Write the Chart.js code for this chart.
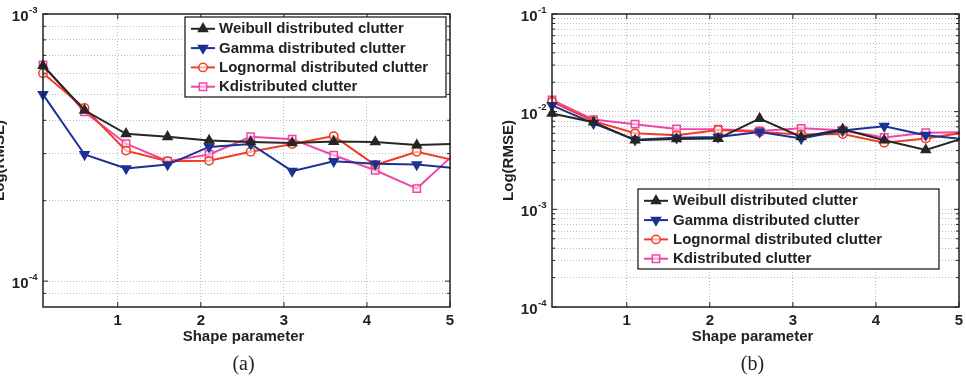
<!DOCTYPE html>
<html>
<head>
<meta charset="utf-8">
<script src="https://cdn.jsdelivr.net/npm/chart.js@4.4.0/dist/chart.umd.min.js"></script>
<style>
  body { margin: 0; background: #fff; }
  #wrap { position: relative; width: 966px; height: 378px; }
  .box { position: absolute; top: 0; width: 483px; height: 378px; }
  #boxA { left: 0; }
  #boxB { left: 483px; }
</style>
</head>
<body>
<div id="wrap">
  <div class="box" id="boxA"><canvas id="chartA"></canvas></div>
  <div class="box" id="boxB"><canvas id="chartB"></canvas></div>
</div>
<script>
// shape parameter values (last point lies just past the axis end)
const shapeParam = [0.1, 0.6, 1.1, 1.6, 2.1, 2.6, 3.1, 3.6, 4.1, 4.6, 5.1];
const seriesNames = ['Weibull distributed clutter', 'Gamma distributed clutter', 'Lognormal distributed clutter', 'Kdistributed clutter'];

// (a) RMSE
const weibullA   = [6.4e-4, 4.36e-4, 3.56e-4, 3.47e-4, 3.36e-4, 3.32e-4, 3.29e-4, 3.33e-4, 3.32e-4, 3.23e-4, 3.27e-4];
const gammaA     = [5.0e-4, 2.98e-4, 2.64e-4, 2.73e-4, 3.18e-4, 3.26e-4, 2.58e-4, 2.81e-4, 2.75e-4, 2.73e-4, 2.64e-4];
const lognormalA = [6.0e-4, 4.45e-4, 3.08e-4, 2.81e-4, 2.82e-4, 3.05e-4, 3.26e-4, 3.49e-4, 2.72e-4, 3.05e-4, 2.81e-4];
const kA         = [6.45e-4, 4.3e-4, 3.27e-4, 2.81e-4, 2.98e-4, 3.47e-4, 3.40e-4, 2.96e-4, 2.60e-4, 2.22e-4, 3.09e-4];

// (b) RMSE
const weibullB   = [9.6e-3, 7.8e-3, 5.1e-3, 5.25e-3, 5.3e-3, 8.5e-3, 5.5e-3, 6.6e-3, 5.1e-3, 4.05e-3, 5.5e-3];
const gammaB     = [1.16e-2, 7.6e-3, 5.15e-3, 5.4e-3, 5.5e-3, 6.2e-3, 5.3e-3, 6.4e-3, 7.1e-3, 5.75e-3, 5.2e-3];
const lognormalB = [1.26e-2, 8.0e-3, 6.0e-3, 5.75e-3, 6.5e-3, 6.2e-3, 5.85e-3, 5.9e-3, 4.8e-3, 5.3e-3, 6.2e-3];
const kB         = [1.32e-2, 8.3e-3, 7.45e-3, 6.65e-3, 6.6e-3, 6.35e-3, 6.75e-3, 6.45e-3, 5.45e-3, 6.1e-3, 6.15e-3];

// ticks
const xTickLabels = [1, 2, 3, 4, 5];
const yDecadesA = [1e-4, 1e-3];
const yDecadesB = [1e-4, 1e-3, 1e-2, 1e-1];
const yGridA = [9e-5, 1e-4, 2e-4, 3e-4, 4e-4, 5e-4, 6e-4, 7e-4, 8e-4, 9e-4, 1e-3];
const yGridB = [];
[1e-4, 1e-3, 1e-2].forEach(d => { for (let m = 1; m < 10; m++) yGridB.push(m * d); });
yGridB.push(1e-1);

const styles = [
  { color: '#262626', fill: '#262626', pointStyle: 'triangle', rotation: 0, radius: 5.2 },
  { color: '#1c3193', fill: '#1c3193', pointStyle: 'triangle', rotation: 180, radius: 5.2 },
  { color: '#f23c26', fill: 'rgba(255,255,255,0.6)', pointStyle: 'circle', rotation: 0, radius: 4.2 },
  { color: '#ef47a6', fill: 'rgba(255,230,242,0.6)', pointStyle: 'rect', rotation: 0, radius: 5.2 }
];

const FONT = '"Liberation Sans", Arial, Helvetica, sans-serif';

function buildDatasets(seriesList) {
  return seriesList.map((vals, i) => ({
    label: seriesNames[i],
    data: shapeParam.map((x, j) => ({ x: x, y: vals[j] })),
    borderColor: styles[i].color,
    backgroundColor: styles[i].fill,
    pointBackgroundColor: styles[i].fill,
    pointBorderColor: styles[i].color,
    pointStyle: styles[i].pointStyle,
    pointRotation: styles[i].rotation,
    pointRadius: styles[i].radius,
    pointBorderWidth: 1.5,
    borderWidth: 2,
    tension: 0,
    // markers may spill past the left axis, but the line stops at x = 5
    clip: { left: 8, top: 8, right: 1, bottom: 8 }
  }));
}

// frame, ticks, labels and in-plot legend
const decor = {
  id: 'decor',
  afterDraw(chart, args, o) {
    const ctx = chart.ctx;
    const a = chart.chartArea;
    const x = chart.scales.x, y = chart.scales.y;
    ctx.save();

    // small inward tick marks
    ctx.strokeStyle = '#222';
    ctx.lineWidth = 1;
    ctx.beginPath();
    xTickLabels.forEach(v => {
      const px = x.getPixelForValue(v);
      ctx.moveTo(px, a.bottom); ctx.lineTo(px, a.bottom - 5);
      ctx.moveTo(px, a.top); ctx.lineTo(px, a.top + 5);
    });
    o.grid.forEach(v => {
      const py = y.getPixelForValue(v);
      const len = o.decades.includes(v) ? 5 : 3;
      ctx.moveTo(a.left, py); ctx.lineTo(a.left + len, py);
      ctx.moveTo(a.right, py); ctx.lineTo(a.right - len, py);
    });
    ctx.stroke();

    // frame
    ctx.lineWidth = 1.5;
    ctx.strokeRect(a.left, a.top, a.right - a.left, a.bottom - a.top);

    // x tick labels
    ctx.fillStyle = '#222';
    ctx.font = 'bold 15px ' + FONT;
    ctx.textAlign = 'center';
    ctx.textBaseline = 'alphabetic';
    xTickLabels.forEach(v => ctx.fillText(String(v), x.getPixelForValue(v), a.bottom + 17.5));

    // y decade labels as 10^n
    o.decades.forEach(v => {
      const py = y.getPixelForValue(v);
      const exp = String(Math.round(Math.log10(v)));
      ctx.font = 'bold 9.5px ' + FONT;
      const ew = ctx.measureText(exp).width;
      const ex = a.left - 5.5 - ew;
      ctx.textAlign = 'left';
      ctx.fillText(exp, ex, py - 1.5);
      ctx.font = 'bold 15px ' + FONT;
      ctx.textAlign = 'right';
      ctx.fillText('10', ex - 0.5, py + 7);
    });

    // axis titles
    const cx = (a.left + a.right) / 2 - 3;
    ctx.font = 'bold 15px ' + FONT;
    ctx.textAlign = 'center';
    ctx.fillText('Shape parameter', cx, a.bottom + 34);
    ctx.save();
    ctx.translate(a.left - 43, (a.top + a.bottom) / 2);
    ctx.rotate(-Math.PI / 2);
    ctx.textBaseline = 'middle';
    ctx.fillText('Log(RMSE)', 0, 0);
    ctx.restore();

    // caption
    ctx.font = '20px "Liberation Serif", "Times New Roman", serif';
    ctx.textBaseline = 'middle';
    ctx.fillText(o.caption, cx, a.bottom + 58);

    // legend box
    const L = o.legend;
    const bx = a.left + L.dx, by = a.top + L.dy;
    ctx.fillStyle = '#fff';
    ctx.fillRect(bx, by, L.w, L.h);
    ctx.strokeStyle = '#111';
    ctx.lineWidth = 1.2;
    ctx.strokeRect(bx, by, L.w, L.h);
    ctx.font = 'bold 15px ' + FONT;
    ctx.textAlign = 'left';
    ctx.textBaseline = 'middle';
    seriesNames.forEach((name, i) => {
      const ry = by + 11.8 + i * 19.3;
      const s = styles[i];
      ctx.strokeStyle = s.color;
      ctx.lineWidth = 2;
      ctx.beginPath();
      ctx.moveTo(bx + 6, ry); ctx.lineTo(bx + 30, ry);
      ctx.stroke();
      ctx.fillStyle = s.fill;
      ctx.lineWidth = 1.5;
      Chart.helpers.drawPoint(ctx, { pointStyle: s.pointStyle, rotation: s.rotation, radius: s.radius, borderWidth: 1.5 }, bx + 18, ry);
      ctx.fillStyle = '#222';
      ctx.fillText(name, bx + L.tx, ry + 0.5);
    });
    ctx.restore();
  }
};

function makeChart(id, seriesList, yMin, yMax, grid, decades, padding, legend, caption) {
  return new Chart(document.getElementById(id), {
    type: 'line',
    data: { datasets: buildDatasets(seriesList) },
    options: {
      responsive: true,
      maintainAspectRatio: false,
      animation: false,
      layout: { padding: padding },
      plugins: {
        legend: { display: false },
        tooltip: { enabled: false },
        decor: { grid: grid, decades: decades, legend: legend, caption: caption }
      },
      scales: {
        x: {
          type: 'linear',
          min: 0.1,
          max: 5,
          afterBuildTicks: s => { s.ticks = xTickLabels.map(v => ({ value: v })); },
          ticks: { display: false },
          grid: { color: '#bdbdbd', lineWidth: 1, drawTicks: false },
          border: { display: false, dash: [1, 2] }
        },
        y: {
          type: 'logarithmic',
          min: yMin,
          max: yMax,
          afterBuildTicks: s => { s.ticks = grid.map(v => ({ value: v })); },
          ticks: { display: false },
          grid: { color: '#bdbdbd', lineWidth: 1, drawTicks: false },
          border: { display: false, dash: [1, 2] }
        }
      }
    },
    plugins: [decor]
  });
}

makeChart('chartA', [weibullA, gammaA, lognormalA, kA], 8e-5, 1e-3, yGridA, yDecadesA,
  { left: 43, top: 14, right: 33, bottom: 71 },
  { dx: 142, dy: 3, w: 261, h: 80, tx: 34 }, '(a)');

makeChart('chartB', [weibullB, gammaB, lognormalB, kB], 1e-4, 1e-1, yGridB, yDecadesB,
  { left: 69, top: 14, right: 7, bottom: 71 },
  { dx: 86, dy: 175, w: 301, h: 80, tx: 35 }, '(b)');
</script>
</body>
</html>
